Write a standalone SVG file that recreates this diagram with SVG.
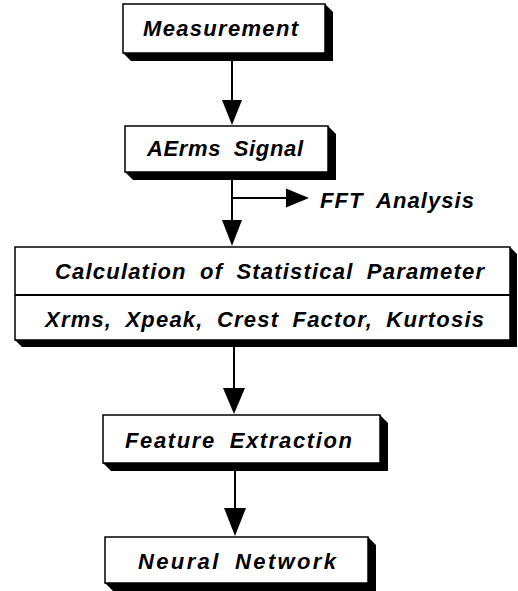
<svg xmlns="http://www.w3.org/2000/svg" width="518" height="591" viewBox="0 0 518 591">
<style>
.box{fill:#fff;stroke:#000;stroke-width:1.5}
.sh{fill:#000}
.t{font-family:"Liberation Sans",Arial,sans-serif;font-weight:bold;font-style:italic;font-size:22px;word-spacing:6px;fill:#000}
.ln{stroke:#000;stroke-width:2;fill:none}
.ah{fill:#000}
</style>
<rect width="518" height="591" fill="#fff"/>
<g id="measurement">
<polygon class="sh" points="325,4 333,12 333,61 131,61 123,53"/>
<rect class="box" x="123" y="4" width="202" height="49"/>
<text class="t" x="143" y="36" textLength="155" lengthAdjust="spacing">Measurement</text>
</g>
<g id="aerms">
<polygon class="sh" points="328,126 336,134 336,180 133,180 125,172"/>
<rect class="box" x="125" y="126" width="203" height="46"/>
<text class="t" x="147" y="156" textLength="156" lengthAdjust="spacing">AErms Signal</text>
</g>
<g id="fft">
<text class="t" x="320" y="208" textLength="154" lengthAdjust="spacing">FFT Analysis</text>
</g>
<g id="calc">
<polygon class="sh" points="510,247 517,254 517,347 22,347 15,340"/>
<rect class="box" x="15" y="247" width="495" height="93"/>
<line class="ln" x1="15" y1="295" x2="510" y2="295" stroke-width="1.5"/>
<text class="t" x="55" y="279" textLength="429" lengthAdjust="spacing">Calculation of Statistical Parameter</text>
<text class="t" x="45" y="327" textLength="439" lengthAdjust="spacing">Xrms, Xpeak, Crest Factor, Kurtosis</text>
</g>
<g id="feature">
<polygon class="sh" points="380,415 388,423 388,471 111,471 103,463"/>
<rect class="box" x="103" y="415" width="277" height="48"/>
<text class="t" x="125" y="448" textLength="227" lengthAdjust="spacing">Feature Extraction</text>
</g>
<g id="neural">
<polygon class="sh" points="368,537 376,545 376,591 113,591 105,583"/>
<rect class="box" x="105" y="537" width="263" height="46"/>
<text class="t" x="138" y="569" textLength="198" lengthAdjust="spacing">Neural Network</text>
</g>
<g id="connectors">
<line class="ln" x1="232" y1="61" x2="232" y2="102"/>
<polygon class="ah" points="222,100 242,100 232,125"/>
<line class="ln" x1="232" y1="180" x2="232" y2="222"/>
<polygon class="ah" points="222,220 242,220 232,246"/>
<line class="ln" x1="232" y1="198" x2="288" y2="198"/>
<polygon class="ah" points="286,188.5 286,207.5 309,198"/>
<line class="ln" x1="234" y1="347" x2="234" y2="390"/>
<polygon class="ah" points="223,388 245,388 234,414"/>
<line class="ln" x1="235" y1="471" x2="235" y2="510"/>
<polygon class="ah" points="224,508 246,508 235,536"/>
</g>
</svg>
